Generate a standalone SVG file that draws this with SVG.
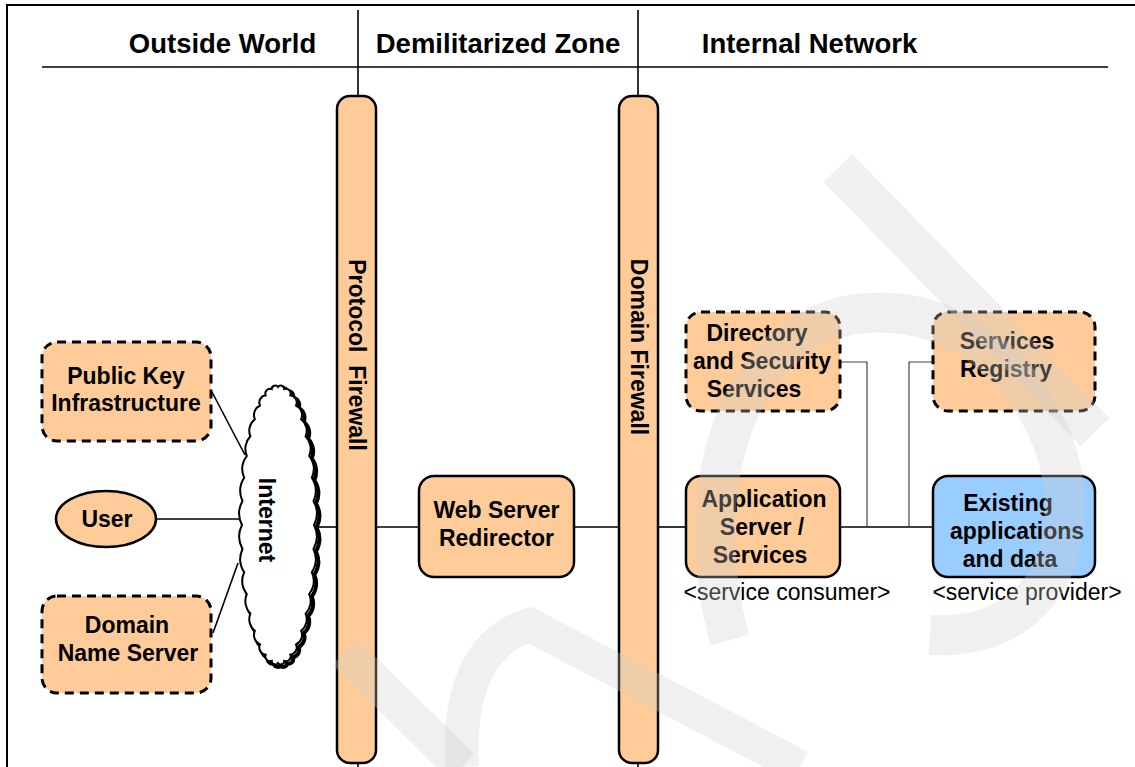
<svg xmlns="http://www.w3.org/2000/svg" width="1135" height="767" viewBox="0 0 1135 767">
<style>
.hd{font-family:"Liberation Sans",Arial,sans-serif;font-weight:bold;font-size:27.5px;fill:#000;text-anchor:middle}
.t{font-family:"Liberation Sans",Arial,sans-serif;font-weight:bold;font-size:23px;fill:#000;text-anchor:middle}
.r{font-family:"Liberation Sans",Arial,sans-serif;font-size:23px;fill:#000;text-anchor:middle}
.sol{fill:#FFCC99;stroke:#000;stroke-width:2.5}
.dash{fill:#FFCC99;stroke:#000;stroke-width:3;stroke-dasharray:9 6}
.blue{fill:#99CCFF;stroke:#000;stroke-width:2.5}
.ln{stroke:#000;stroke-width:1.6;fill:none}
.thin{stroke:#444;stroke-width:1.2;fill:none}
.frame{stroke:#000;stroke-width:2;fill:none}
.wm{stroke:#CFCFCF;stroke-opacity:0.31;fill:none;stroke-linecap:butt}
</style>
<defs>
<path id="cloud" d="M278 387 A3.5 3.5 0 0 1 284.3 389.1 A4.7 4.7 0 0 1 290.3 395.3 A7.2 7.2 0 0 1 296 405.5 A10.5 10.5 0 0 1 301.1 419.3 A14.4 14.4 0 0 1 305.6 436.3 A18.2 18.2 0 0 1 309.2 456 A21.7 21.7 0 0 1 311.8 477.8 A24.1 24.1 0 0 1 313.5 501 A25.5 25.5 0 0 1 314 525 A25.5 25.5 0 0 1 313.5 549 A24.1 24.1 0 0 1 311.8 572.2 A21.7 21.7 0 0 1 309.2 594 A18.2 18.2 0 0 1 305.6 613.7 A14.4 14.4 0 0 1 301.1 630.7 A10.5 10.5 0 0 1 296 644.5 A7.2 7.2 0 0 1 290.3 654.7 A4.7 4.7 0 0 1 284.3 660.9 A3.5 3.5 0 0 1 278 663 A3.5 3.5 0 0 1 271.7 660.9 A4.7 4.7 0 0 1 265.7 654.7 A7.2 7.2 0 0 1 260 644.5 A10.5 10.5 0 0 1 254.9 630.7 A14.4 14.4 0 0 1 250.4 613.7 A18.2 18.2 0 0 1 246.8 594 A21.7 21.7 0 0 1 244.2 572.2 A24.1 24.1 0 0 1 242.5 549 A25.5 25.5 0 0 1 242 525 A25.5 25.5 0 0 1 242.5 501 A24.1 24.1 0 0 1 244.2 477.8 A21.7 21.7 0 0 1 246.8 456 A18.2 18.2 0 0 1 250.4 436.3 A14.4 14.4 0 0 1 254.9 419.3 A10.5 10.5 0 0 1 260 405.5 A7.2 7.2 0 0 1 265.7 395.3 A4.7 4.7 0 0 1 271.7 389.1 A3.5 3.5 0 0 1 278 387 Z"/>
</defs>
<rect x="0" y="0" width="1135" height="767" fill="#fff"/>
<g id="frame">
<path class="frame" d="M7 767 V5 H1135"/>
<line class="ln" x1="42" y1="67" x2="1108" y2="67" stroke-width="2"/>
<line class="ln" x1="358" y1="10" x2="358" y2="96"/>
<line class="ln" x1="638" y1="10" x2="638" y2="96"/>
<line class="ln" x1="358" y1="763" x2="358" y2="767"/>
<line class="ln" x1="638" y1="763" x2="638" y2="767"/>
<text class="hd" x="222.5" y="53">Outside World</text>
<text class="hd" x="498" y="53">Demilitarized Zone</text>
<text class="hd" x="809.5" y="53">Internal Network</text>
</g>
<g id="connectors">
<line class="ln" x1="212" y1="392" x2="245" y2="455"/>
<line class="ln" x1="156" y1="519" x2="242" y2="519"/>
<line class="ln" x1="213" y1="633" x2="238" y2="563"/>
<line class="ln" x1="316" y1="527" x2="337" y2="527"/>
<line class="ln" x1="376" y1="527" x2="419" y2="527"/>
<line class="ln" x1="573" y1="527" x2="619" y2="527"/>
<line class="ln" x1="657" y1="527" x2="686" y2="527"/>
<line class="ln" x1="840" y1="527" x2="933" y2="527" stroke-width="2"/>
<polyline class="thin" points="840,362 867,362 867,527"/>
<polyline class="thin" points="933,362 909,362 909,527"/>
</g>
<g id="protocol-firewall">
<rect class="sol" x="337" y="96" width="39" height="667" rx="13"/>
<text class="t" transform="translate(356.5,355) rotate(90)" dominant-baseline="central" xml:space="preserve">Protocol  Firewall</text>
</g>
<g id="domain-firewall">
<rect class="sol" x="619" y="96" width="39" height="667" rx="13"/>
<text class="t" transform="translate(638.5,347) rotate(90)" dominant-baseline="central">Domain Firewall</text>
</g>
<g id="pki">
<rect class="dash" x="42" y="342" width="169" height="99" rx="15"/>
<text class="t" x="126" y="384">Public Key</text>
<text class="t" x="126" y="411">Infrastructure</text>
</g>
<g id="user">
<ellipse class="sol" cx="106" cy="519" rx="50" ry="28" stroke-width="2"/>
<text class="t" x="107" y="527">User</text>
</g>
<g id="dns">
<rect class="dash" x="42" y="596" width="169" height="97" rx="15"/>
<text class="t" x="127" y="633">Domain</text>
<text class="t" x="128" y="661">Name Server</text>
</g>
<g id="internet">
<use href="#cloud" transform="translate(2.5,2.5)" fill="none" stroke="#000" stroke-width="4"/>
<use href="#cloud" fill="#fff" stroke="#000" stroke-width="2"/>
<text class="t" transform="translate(267,520) rotate(90)" dominant-baseline="central">Internet</text>
</g>
<g id="web-server">
<rect class="sol" x="419" y="476" width="155" height="101" rx="15"/>
<text class="t" x="496.5" y="518">Web Server</text>
<text class="t" x="496.5" y="546">Redirector</text>
</g>
<g id="directory">
<rect class="dash" x="686" y="312" width="154" height="99" rx="15"/>
<text class="t" x="757" y="341">Directory</text>
<text class="t" x="762" y="369">and Security</text>
<text class="t" x="754" y="397">Services</text>
</g>
<g id="registry">
<rect class="dash" x="933" y="312" width="162" height="99" rx="15"/>
<text class="t" x="1007" y="349">Services</text>
<text class="t" x="1006" y="377">Registry</text>
</g>
<g id="app-server">
<rect class="sol" x="686" y="476" width="154" height="101" rx="15"/>
<text class="t" x="764" y="507">Application</text>
<text class="t" x="762" y="535">Server /</text>
<text class="t" x="760" y="563">Services</text>
<text class="r" x="787" y="600">&lt;service consumer&gt;</text>
</g>
<g id="existing">
<rect class="blue" x="933" y="476" width="162" height="101" rx="15"/>
<text class="t" x="1008" y="511">Existing</text>
<text class="t" x="1017" y="539">applications</text>
<text class="t" x="1010" y="567">and data</text>
<text class="r" x="1027" y="600">&lt;service provider&gt;</text>
</g>
<g id="watermark">
<path class="wm" stroke-width="40" d="M838 168 L1095 432"/>
<path class="wm" stroke-width="36" d="M345 652 L462 767"/>
<path class="wm" stroke-width="34" d="M462 767 C458 690 480 640 530 625 L800 767"/>
<path class="wm" stroke-width="40" d="M730 640 C690 500 730 340 850 315 C970 295 1060 400 1065 500 C1068 590 1010 640 930 635"/>
</g>
</svg>
